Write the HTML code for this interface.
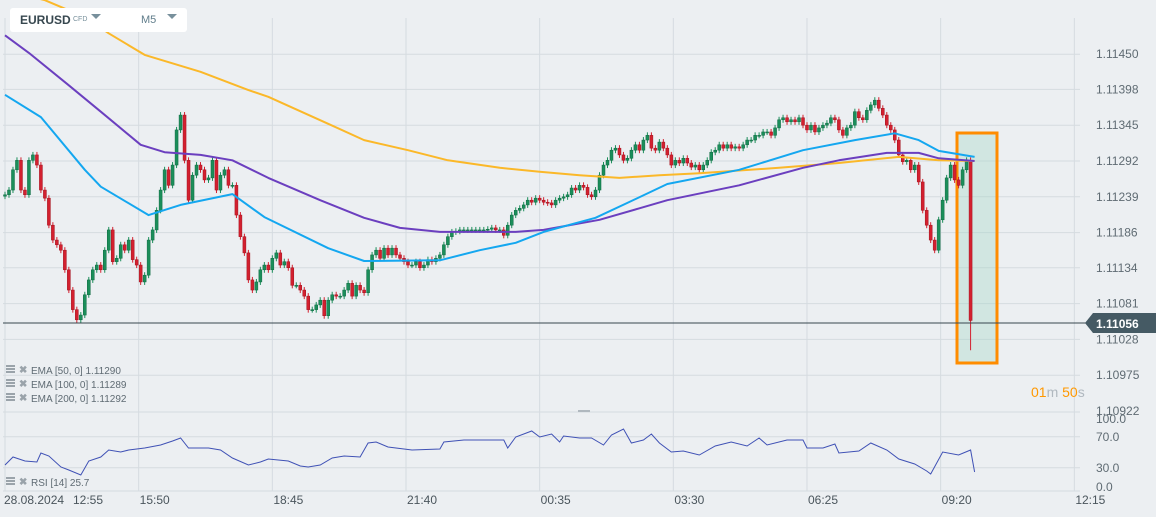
<!DOCTYPE html>
<html><head><meta charset="utf-8">
<style>
body{margin:0;background:#eceff2;font-family:"Liberation Sans",sans-serif;}
#wrap{position:relative;width:1156px;height:517px;overflow:hidden;background:#eceff2;}
svg{position:absolute;left:0;top:0;}
.hdr{position:absolute;left:10px;top:8px;width:177px;height:24px;background:#fff;border-radius:3px;}
</style></head>
<body>
<div id="wrap">
<svg id="chart" width="1156" height="517"></svg>
<div class="hdr">
  <span style="position:absolute;left:10px;top:5px;font-size:12px;font-weight:bold;color:#37474f;">EURUSD</span>
  <span style="position:absolute;left:63px;top:8px;font-size:7px;color:#78909c;">CFD</span>
  <span style="position:absolute;left:81px;top:6px;width:0;height:0;border-left:5px solid transparent;border-right:5px solid transparent;border-top:5px solid #78909c;"></span>
  <span style="position:absolute;left:131px;top:6px;font-size:11px;color:#607d8b;">M5</span>
  <span style="position:absolute;left:157px;top:6px;width:0;height:0;border-left:5px solid transparent;border-right:5px solid transparent;border-top:5px solid #78909c;"></span>
</div>
</div>
<script>
// closes in pipettes above 1.11000
const closePts=[242,249,279,293,249,242,293,301,286,249,237,197,175,168,160,131,101,72,57,64,94,116,131,138,131,160,190,143,148,168,160,175,146,138,113,123,175,190,219,249,279,256,286,338,360,293,234,271,286,279,264,267,293,249,271,279,256,256,212,180,156,116,101,113,131,138,131,148,156,138,143,134,108,108,101,92,72,72,79,86,63,86,94,92,92,101,111,92,108,101,97,131,153,160,148,163,153,163,153,148,143,138,138,143,134,138,146,143,148,153,168,180,187,188,190,190,190,190,190,190,190,191,193,190,190,182,197,212,219,222,227,234,231,237,234,231,230,227,234,237,239,242,252,249,256,253,242,239,249,271,286,293,308,311,301,293,296,308,316,308,323,330,311,308,320,311,301,286,293,289,296,289,283,286,279,286,293,305,308,316,311,316,311,313,311,316,323,323,330,330,335,335,330,341,353,356,350,353,350,356,345,338,345,335,341,345,348,356,353,338,330,341,345,365,356,353,367,375,382,370,360,345,338,323,301,291,293,279,286,261,219,197,175,160,205,234,267,286,264,256,279,293,56];
const firstOpen=240;
const lastLowPts=12;
const ema50Idx=[0,9,20,24,36,44,57,65,81,90,109,119,128,135,148,156,166,184,200,213,223,229,234,243];
const ema50Pts=[390,357,279,254,212,227,243,209,163,144,145,160,171,187,208,230,258,279,308,323,333,323,307,298];
const ema100Idx=[0,6,16,24,34,40,49,57,66,79,90,99,109,128,135,149,159,166,184,200,209,221,229,234,243];
const ema100Pts=[478,452,404,365,316,305,301,293,267,234,208,193,187,187,190,205,222,234,256,282,293,304,304,296,292];
const ema200Idx=[0,10,20,26,35,49,61,66,81,90,101,111,124,134,144,154,164,174,194,209,224,234,243];
const ema200Pts=[545,530,505,481,449,424,397,387,347,323,308,293,282,276,271,267,271,274,282,289,298,293,292];
const rsiIdx=[0,2,5,8,9,11,14,16,19,21,24,26,29,31,35,39,42,44,46,51,54,57,61,64,66,71,74,76,79,82,85,89,91,93,96,102,109,110,115,125,126,128,132,134,137,139,140,144,147,150,152,155,157,160,162,164,167,170,174,178,182,186,189,191,196,200,201,205,208,209,214,217,221,224,228,231,232,235,239,242,243];
const rsiVal=[33.5,43.9,38.7,37.4,49,45.2,31,27.1,20.6,38.7,43.9,52.9,50.3,52.9,55.5,59.4,64.5,68.4,55.5,55.5,52.9,42.6,33.5,37.4,41.3,38.7,32.3,31,33.5,42.6,45.2,43.9,61.9,63.2,56.8,52.9,54.2,63.2,65.8,65.8,55.5,69.7,77.4,69.7,73.5,63.2,71,68.4,68.4,59.4,72.3,80,61.9,65.8,73.5,61.9,50.3,51.6,46.5,58.1,63.2,58.1,68.4,59.4,65.8,65.8,55.5,55.5,60.6,49,51.6,61.9,52.9,41.3,34.8,25.8,21.9,50.3,46.5,52.9,24.5];
const priceTicks=["1.11450","1.11398","1.11345","1.11292","1.11239","1.11186","1.11134","1.11081","1.11028","1.10975","1.10922"];
const rsiTicks=[100,70,30,0];
const timeLabels=["15:50","18:45","21:40","00:35","03:30","06:25","09:20","12:15"];
const timeIdx=[33.5,67,100.5,134,167.5,201,234.5,268];

const NS="http://www.w3.org/2000/svg";
const svg=document.getElementById('chart');
function el(t,a,p){const e=document.createElementNS(NS,t);for(const k in a)e.setAttribute(k,a[k]);(p||svg).appendChild(e);return e;}
function xOf(i){return 5+i*3.99;}
function yOfPrice(p){return 161-(p-1.11292)*67568;}
function yOfPts(v){return yOfPrice(1.11+v/1e5);}
function yOfRsi(v){return 491-v*0.775;}

const grid=el('g',{});


priceTicks.forEach(t=>{const y=yOfPrice(parseFloat(t));if(y<405)el('line',{x1:3,x2:1080,y1:y,y2:y,stroke:'#d5dbe0','stroke-width':1},grid);});
timeIdx.forEach(i=>{el('line',{x1:xOf(i),x2:xOf(i),y1:18,y2:491,stroke:'#d5dbe0','stroke-width':1},grid);});
el('line',{x1:5,x2:5,y1:18,y2:491,stroke:'#d5dbe0'},grid);
el('line',{x1:3,x2:1080,y1:412,y2:412,stroke:'#d5dbe0'},grid);
[70,30].forEach(v=>el('line',{x1:3,x2:1080,y1:yOfRsi(v),y2:yOfRsi(v),stroke:'#d5dbe0'},grid));
el('line',{x1:3,x2:1080,y1:491,y2:491,stroke:'#d5dbe0'},grid);
el('line',{x1:578,x2:590,y1:411,y2:411,stroke:'#b0b8bf','stroke-width':2},grid);

const box=el('rect',{x:957,y:133,width:40,height:230,fill:'rgba(160,215,195,0.35)',stroke:'#ff8c00','stroke-width':3});



const cg=el('g',{});


closePts.forEach((c,i)=>{
  const o=i===0?firstOpen:closePts[i-1];
  const up=c>=o;
  const col=up?'#1b8e5a':'#d3202f';
  const yo=yOfPts(o),yc=yOfPts(c);
  const top=Math.min(yo,yc),bot=Math.max(yo,yc);
  const x=xOf(i);
  const lowY=(i===closePts.length-1)?yOfPts(lastLowPts):bot+3;
  const w=el('line',{x1:x,x2:x,y1:top-3,y2:lowY,stroke:col,'stroke-width':1},cg);
  
  
  const r=el('rect',{x:x-1.5,y:top,width:3,height:Math.max(1,bot-top),fill:col,stroke:up?'#0f6b42':'#a3121e','stroke-width':0.5},cg);
  
  
});

function emaLine(idx,pts,col,name){
  const d=idx.map((i,k)=>(k?'L':'M')+xOf(i).toFixed(1)+' '+yOfPts(pts[k]).toFixed(1)).join(' ');
  const p=el('path',{d:d,fill:'none',stroke:col,'stroke-width':2,'stroke-linejoin':'round'});
  
  
}
emaLine(ema200Idx,ema200Pts,'#fbb829','ema-200-line');
emaLine(ema100Idx,ema100Pts,'#6b3fbf','ema-100-line');
emaLine(ema50Idx,ema50Pts,'#14a7f0','ema-50-line');

const cp=el('line',{x1:3,x2:1088,y1:323,y2:323,stroke:'#37474f','stroke-width':1});


const tag=el('path',{d:'M1085 323 L1093 313 L1156 313 L1156 333 L1093 333 Z',fill:'#455a64'});


const tt=el('text',{x:1096,y:328,'font-size':12,'font-weight':'bold',fill:'#fff'});
tt.textContent='1.11056';



priceTicks.forEach(t=>{
  const y=yOfPrice(parseFloat(t));
  const tx=el('text',{x:1096,y:y+4,'font-size':12,fill:'#5f6b73'});
  tx.textContent=t;
  
  
});
const rsiLabY={100:423,70:441,30:472,0:491};
rsiTicks.forEach(v=>{
  const tx=el('text',{x:1096,y:rsiLabY[v],'font-size':12,fill:'#5f6b73'});
  tx.textContent=v.toFixed(1);
  
  
});
const rd=rsiIdx.map((i,k)=>(k?'L':'M')+xOf(i).toFixed(1)+' '+yOfRsi(rsiVal[k]).toFixed(1)).join(' ');
const rl=el('path',{d:rd,fill:'none',stroke:'#3f51b5','stroke-width':1});



const t0=el('text',{x:4,y:504,'font-size':12,fill:'#4a555c'});
t0.textContent='28.08.2024';


const t1=el('text',{x:73,y:504,'font-size':12,fill:'#4a555c'});
t1.textContent='12:55';


timeLabels.forEach((t,k)=>{
  const tx=el('text',{x:xOf(timeIdx[k])+1,y:504,'font-size':12,fill:'#4a555c'});
  tx.textContent=t;
  
  
});

const legends=[["EMA [50, 0] 1.11290",372],["EMA [100, 0] 1.11289",386],["EMA [200, 0] 1.11292",400],["RSI [14] 25.7",484]];
legends.forEach(l=>{
  const g=el('g',{});
  
  
  el('rect',{x:6,y:l[1]-7,width:9,height:2,fill:'#9aa3aa'},g);
  el('rect',{x:6,y:l[1]-4,width:9,height:2,fill:'#9aa3aa'},g);
  el('rect',{x:6,y:l[1]-1,width:9,height:2,fill:'#9aa3aa'},g);
  const xx=el('text',{x:19,y:l[1]+1,'font-size':10,'font-weight':'bold',fill:'#9aa3aa'},g);
  xx.textContent='✖';
  const tx=el('text',{x:31,y:l[1]+2,'font-size':10,fill:'#5f6b73'},g);
  tx.textContent=l[0];
});

const cd=el('text',{x:1031,y:397,'font-size':14});


const parts=[["01","#ff9800"],["m ","#b0b8bf"],["50","#ff9800"],["s","#b0b8bf"]];
parts.forEach(p=>{const s=el('tspan',{fill:p[1]},cd);s.textContent=p[0];});
</script>
</body></html>
